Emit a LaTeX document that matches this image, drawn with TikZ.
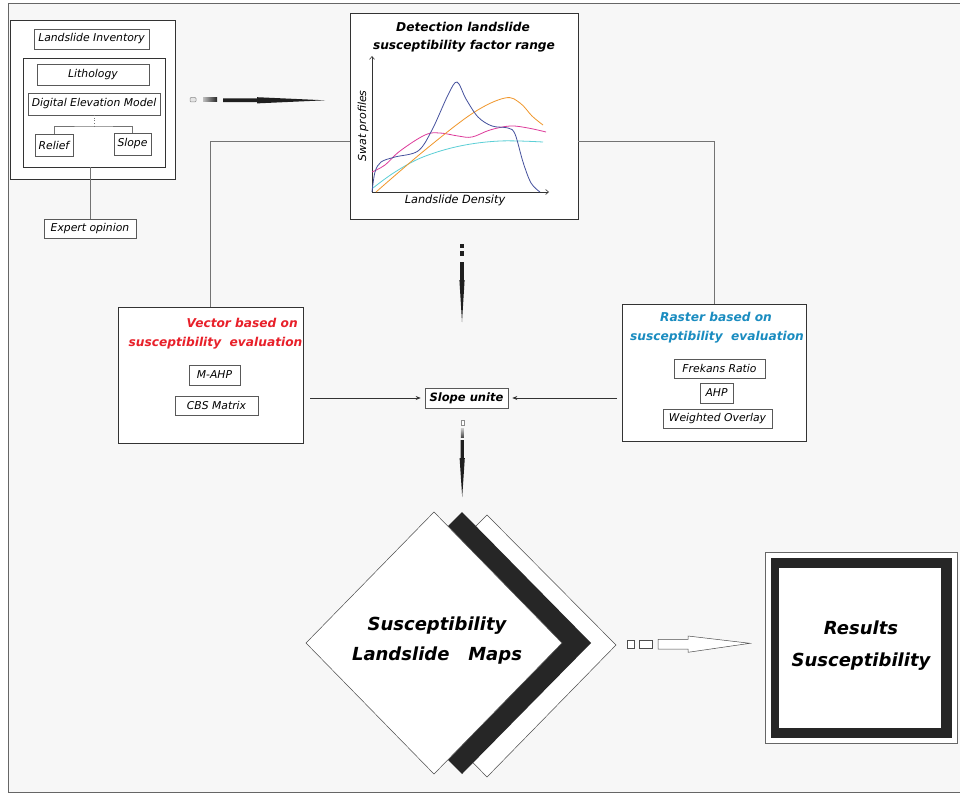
\documentclass[tikz,border=0pt]{standalone}
\usepackage{fontspec}
\setmainfont{DejaVu Sans}
\usetikzlibrary{arrows.meta,calc,shapes.geometric}
\definecolor{bg}{HTML}{F7F7F7}
\definecolor{vred}{HTML}{E8202A}
\definecolor{rblue}{HTML}{1A8CC0}
\definecolor{cblue}{HTML}{46529E}
\definecolor{corange}{HTML}{F0962A}
\definecolor{cmag}{HTML}{DD3A9A}
\definecolor{ccyan}{HTML}{5CCFD6}
\begin{document}
\begin{tikzpicture}[x=1pt,y=-1pt,
  bigbox/.style={draw=black!80,line width=0.9pt,fill=white,rectangle,inner sep=0pt},
  smallbox/.style={draw=black!65,line width=0.6pt,fill=white,rectangle,inner sep=0pt,font=\itshape\fontsize{10.8}{12}\selectfont},
  conn/.style={draw=black!55,line width=0.6pt},
  thinarrow/.style={draw=black!80,line width=0.6pt,-{Stealth[length=5pt,width=4pt]}},
  title/.style={font=\bfseries\itshape\fontsize{12.2}{14}\selectfont,inner sep=0pt},
  curve/.style={line width=0.8pt},
  shapeline/.style={draw=black!70,line width=0.5pt}]
\useasboundingbox (0,0) rectangle (960,794);
\fill[white] (0,0) rectangle (960,794);
\filldraw[fill=bg,draw=black!60,line width=1pt] (8,4) rectangle (965,792);

% ---------- input block ----------
\node[bigbox,minimum width=165pt,minimum height=159pt] (outer) at (92.5,99.5) {};
\node[smallbox,minimum width=115pt,minimum height=20pt] (inv) at (91.5,39) {Landslide Inventory};
\node[bigbox,minimum width=142pt,minimum height=109pt] (inner) at (94,112.5) {};
\node[smallbox,minimum width=112pt,minimum height=21pt] (lith) at (93,74.5) {Lithology};
\node[smallbox,minimum width=132pt,minimum height=22pt] (dem) at (94,104) {Digital Elevation Model};
\node[smallbox,minimum width=38pt,minimum height=22pt] (relief) at (54,145) {Relief};
\node[smallbox,minimum width=37pt,minimum height=22pt] (slopeb) at (132.5,144) {Slope};
\node[smallbox,minimum width=92pt,minimum height=19pt] (expert) at (90,228.5) {Expert opinion};
\coordinate (junc) at (94,126);
\draw[conn,dotted,line width=0.8pt] (dem.south) -- (junc);
\draw[conn] (relief.north) |- (junc) -| (slopeb.north);
\draw[conn] (expert.north) -- (expert.north |- inner.south);

% ---------- top arrow ----------
\draw[draw=black!45,fill=black!10,rounded corners=1pt,line width=0.5pt] (190,97.5) rectangle (196,102);
\shade[left color=black!25,right color=black!85] (203,97.5) rectangle (217,102);
\fill[black!88] (223,98.3) -- (257,98.3) -- (257,97.2) -- (325,100.3) -- (257,103.4) -- (257,102.2) -- (223,102.2) -- cycle;

% ---------- chart ----------
\node[bigbox,minimum width=228pt,minimum height=206pt] (chart) at (464,116) {};
\node[title] (ct1) at (463,27) {Detection landslide};
\node[title] (ct2) at (464,46) {susceptibility factor range};
\coordinate (orig) at (372,192);
\draw[black!80,line width=0.6pt,-{Straight Barb[length=3pt,width=5pt]}] (orig) -- (372,56);
\draw[black!80,line width=0.6pt,-{Straight Barb[length=3pt,width=5pt]}] (orig) -- (549,192);
\node[font=\itshape\fontsize{11}{12}\selectfont,rotate=90] (ylab) at (363,126) {Swat profiles};
\node[font=\itshape\fontsize{11.3}{12}\selectfont] (xlab) at (455,200) {Landslide Density};
\draw[curve,ccyan] plot[smooth,tension=0.6] coordinates {(373,188) (395,172) (423,157) (460,146) (500,141) (543,142)};
\draw[curve,cmag] plot[smooth,tension=0.6] coordinates {(372,172) (385,165) (400,151) (425,135) (440,133) (458,136) (472,137) (490,130) (510,126) (528,128) (546,132)};
\draw[curve,corange] plot[smooth,tension=0.6] coordinates {(376,192) (425,150) (473,113) (505,98) (520,103) (532,116) (543,125)};
\draw[curve,cblue] plot[smooth,tension=0.55] coordinates {(372,192) (375,172) (381,162) (395,157) (418,151) (432,130) (448,95) (457,82) (466,99) (478,117) (492,126) (508,128) (515,134) (523,162) (531,183) (540,192)};

% connectors chart -> branches
\node[bigbox,minimum width=185pt,minimum height=136pt] (vector) at (210.5,375) {};
\node[bigbox,minimum width=184pt,minimum height=137pt] (raster) at (714.5,372.5) {};
\draw[conn] ($(chart.west)+(0,25)$) -| (vector.north);
\draw[conn] ($(chart.east)+(0,25)$) -| (raster.north);

% vector block
\node[title,text=vred,anchor=east] (vt1) at (298,323) {Vector based on};
\node[title,text=vred] (vt2) at (215.5,343) {susceptibility\ \ evaluation};
\node[smallbox,minimum width=51pt,minimum height=20pt] (mahp) at (214.5,375) {M-AHP};
\node[smallbox,minimum width=83pt,minimum height=19pt] (cbs) at (216.5,405.5) {CBS Matrix};

% raster block
\node[title,text=rblue] (rt1) at (716,317) {Raster based on};
\node[title,text=rblue] (rt2) at (717,337) {susceptibility\ \ evaluation};
\node[smallbox,minimum width=91pt,minimum height=19pt] (frek) at (719.5,368.5) {Frekans Ratio};
\node[smallbox,minimum width=33pt,minimum height=20pt] (ahp) at (716.5,393) {AHP};
\node[smallbox,minimum width=109pt,minimum height=19pt] (wov) at (717.5,418.5) {Weighted Overlay};

% slope unite
\node[smallbox,font=\bfseries\itshape\fontsize{11.5}{12}\selectfont,minimum width=83pt,minimum height=20pt] (slopeu) at (466.5,398) {Slope unite};
\draw[thinarrow,shorten <=7pt,shorten >=4pt] (vector.east |- slopeu.west) -- (slopeu.west);
\draw[thinarrow,shorten <=5pt,shorten >=4pt] (raster.west |- slopeu.east) -- (slopeu.east);

% down arrow from chart
\fill[black!88] (460.2,244) rectangle (463.8,248);
\fill[black!88] (460.2,251) rectangle (463.8,256);
\fill[black!88] (460.2,262) -- (463.8,262) -- (463.8,280) -- (464.6,280) -- (462,322) -- (459.4,280) -- (460.2,280) -- cycle;

% down arrow below slope unite
\draw[draw=black!45,fill=white,line width=0.4pt] (460.8,420) rectangle (463.8,425);
\shade[top color=black!20,bottom color=black!70] (460.8,428) rectangle (463.8,437);
\fill[black!88] (460.6,440) -- (463.9,440) -- (463.9,458) -- (464.8,458) -- (462.2,497) -- (459.6,458) -- (460.6,458) -- cycle;

% ---------- diamonds ----------
\filldraw[fill=white,shapeline] (487,515) -- (616,645) -- (487,777) -- (358,645) -- cycle;
\fill[black!85] (462,512) -- (591,643) -- (462,774) -- (333,643) -- cycle;
\filldraw[fill=white,shapeline] (434,512) -- (562,643) -- (434,774) -- (306,643) -- cycle;
\node[font=\bfseries\itshape\fontsize{18}{30}\selectfont,align=center] (maps) at (437,641) {Susceptibility\\Landslide\ \ \ Maps};

% ---------- hollow arrow ----------
\draw[shapeline,fill=white] (627,640) rectangle (634,648);
\draw[shapeline,fill=white] (639,640) rectangle (652,648);
\draw[shapeline,fill=white] (658,639.3) -- (688,639.3) -- (688,636) -- (750,643.3) -- (688,652.3) -- (688,649) -- (658,649) -- cycle;

% ---------- results ----------
\node[draw=black!60,line width=0.7pt,fill=white,minimum width=192pt,minimum height=191pt,inner sep=0pt] (resout) at (861,647.5) {};
\fill[black!85] (771,558) rectangle (952,738);
\fill[white] (779,568) rectangle (941,728);
\node[font=\bfseries\itshape\fontsize{18}{32}\selectfont,align=center] (results) at (861,646) {Results\\Susceptibility};
\end{tikzpicture}
\end{document}
